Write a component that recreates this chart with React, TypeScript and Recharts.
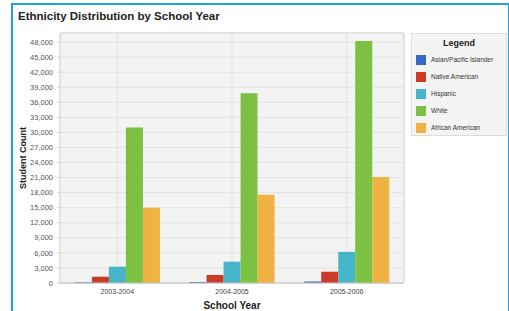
import React from 'react';
import {
  BarChart,
  Bar,
  XAxis,
  YAxis,
  CartesianGrid,
  Legend,
  ReferenceArea,
} from 'recharts';

/* ── Data ───────────────────────────────────────────────────────── */
const schoolYears = ['2003-2004', '2004-2005', '2005-2006'];
const asianPacific = [150, 200, 300];
const nativeAmerican = [1250, 1600, 2250];
const hispanic = [3250, 4250, 6200];
const white = [31000, 37800, 48200];
const africanAmerican = [15000, 17600, 21100];
const yTicks = [0, 3000, 6000, 9000, 12000, 15000, 18000, 21000, 24000, 27000, 30000, 33000, 36000, 39000, 42000, 45000, 48000];
const yMax = 49800;

const series = [
  { key: 'asian', name: 'Asian/Pacific Islander', values: asianPacific, color: '#3a66c5' },
  { key: 'native', name: 'Native American', values: nativeAmerican, color: '#cc3b27' },
  { key: 'hispanic', name: 'Hispanic', values: hispanic, color: '#47b5c9' },
  { key: 'white', name: 'White', values: white, color: '#7cc142' },
  { key: 'african', name: 'African American', values: africanAmerican, color: '#f0b243' },
];

const chartData = schoolYears.map((year, i) => {
  const row: Record<string, string | number> = { year };
  series.forEach((s) => {
    row[s.key] = s.values[i];
  });
  return row;
});

const font = "'Liberation Sans', Arial, sans-serif";
const seriesOrder = (name: string) => series.findIndex((s) => s.name === name);

/* ── Legend box ─────────────────────────────────────────────────── */
const LegendBox = ({ payload }: { payload?: any[] }) => {
  const items = [...(payload || [])].sort((a, b) => seriesOrder(a.value) - seriesOrder(b.value));
  return (
    <div
      style={{
        boxSizing: 'border-box',
        width: 96,
        height: 103,
        background: '#f4f4f4',
        border: '1px solid #dcdcdc',
        fontFamily: font,
        paddingTop: 4,
      }}
    >
      <div style={{ textAlign: 'center', fontWeight: 700, fontSize: 9, color: '#222', marginBottom: 3 }}>
        Legend
      </div>
      {items.map((p) => (
        <div key={p.value} style={{ display: 'flex', alignItems: 'center', height: 17, paddingLeft: 4 }}>
          <span style={{ width: 10, height: 10, background: p.color, display: 'inline-block', marginRight: 5 }} />
          <span style={{ fontSize: 6.5, color: '#333' }}>{p.value}</span>
        </div>
      ))}
    </div>
  );
};

export default function App() {
  return (
    <div style={{ position: 'absolute', left: 0, top: 0, width: 509, height: 311, overflow: 'hidden', background: '#fff' }}>
      <div
        style={{
          position: 'absolute',
          left: 11,
          top: 3,
          width: 495,
          height: 330,
          border: '2px solid #1ea3de',
        }}
      />
      <div
        style={{
          position: 'absolute',
          left: 18,
          top: 10,
          fontFamily: font,
          fontWeight: 700,
          fontSize: 11.5,
          color: '#222',
        }}
      >
        Ethnicity Distribution by School Year
      </div>
      <div style={{ position: 'absolute', left: 0, top: 0 }}>
        <BarChart
          width={509}
          height={311}
          data={chartData}
          margin={{ top: 33, right: 105, left: 12, bottom: 2 }}
          barCategoryGap="13%"
          barGap={0}
        >
          <CartesianGrid fill="#f3f3f3" stroke="#e3e3e3" />
          <ReferenceArea y1={0} y2={yMax} fill="none" stroke="#d6d6d6" strokeOpacity={1} />
          <XAxis
            dataKey="year"
            height={26}
            tickLine={false}
            axisLine={{ stroke: '#c8c8c8' }}
            tickSize={0}
            tickMargin={6}
            tick={{ fontFamily: font, fontSize: 7, fill: '#444' }}
            label={{
              value: 'School Year',
              position: 'insideBottom',
              offset: 0,
              style: { fontFamily: font, fontSize: 10, fontWeight: 700, fill: '#222' },
            }}
          />
          <YAxis
            width={48}
            domain={[0, yMax]}
            ticks={yTicks}
            interval={0}
            axisLine={false}
            tickLine={{ stroke: '#cfcfcf' }}
            tickSize={3}
            tickMargin={4}
            tick={{ fontFamily: font, fontSize: 7.5, fill: '#555' }}
            tickFormatter={(v: number) => v.toLocaleString('en-US')}
            label={{
              value: 'Student Count',
              angle: -90,
              position: 'insideLeft',
              offset: 11,
              style: { textAnchor: 'middle', fontFamily: font, fontSize: 9, fontWeight: 700, fill: '#222' },
            }}
          />
          <Legend
            layout="horizontal"
            align="center"
            verticalAlign="middle"
            wrapperStyle={{ left: 411, top: 33, width: 96 }}
            content={<LegendBox />}
          />
          {series.map((s) => (
            <Bar key={s.key} dataKey={s.key} name={s.name} fill={s.color} isAnimationActive={false} />
          ))}
        </BarChart>
      </div>
    </div>
  );
}
